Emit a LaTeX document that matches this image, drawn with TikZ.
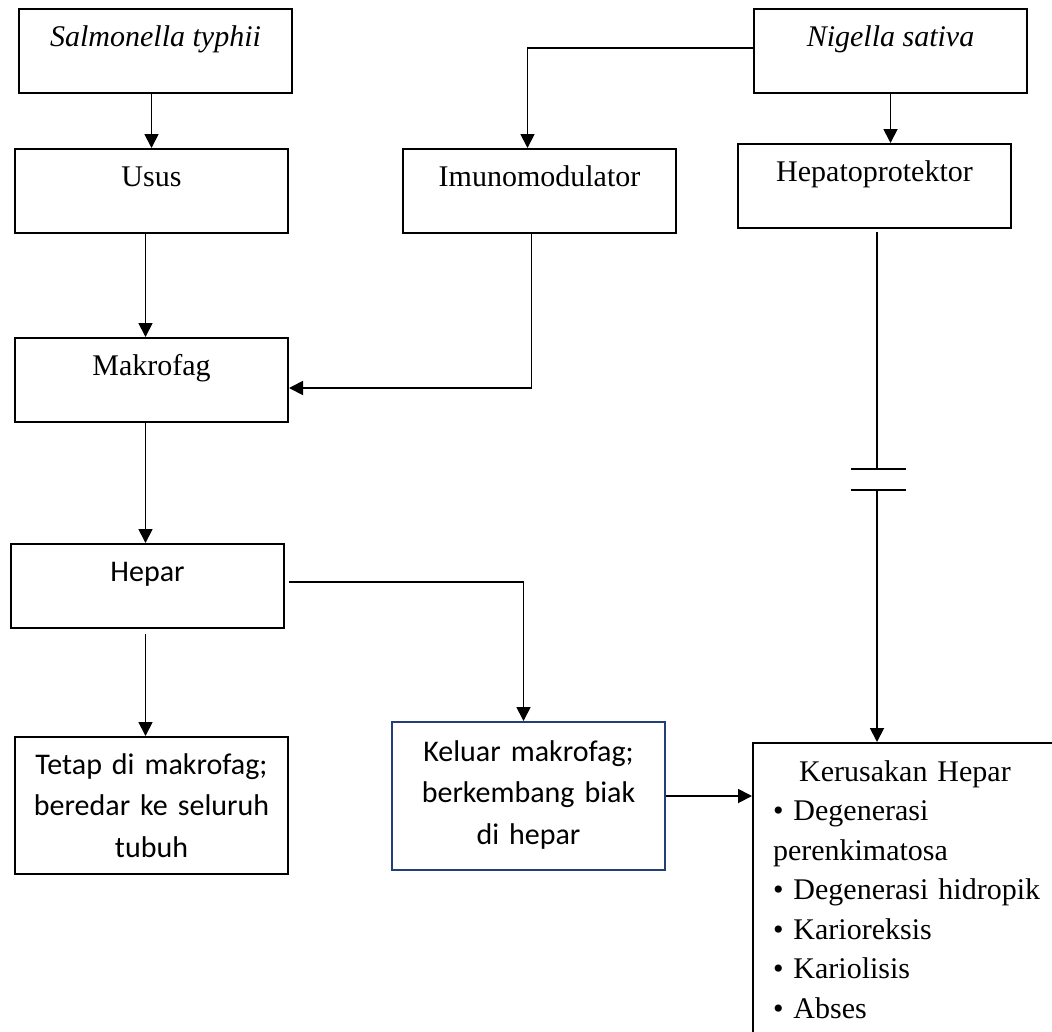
\documentclass[tikz,border=0pt]{standalone}
\usepackage{fontspec}
\setmainfont{Liberation Serif}
\newfontfamily\calibrisub{Carlito}
\usepackage{tikz}
\usetikzlibrary{arrows.meta,calc}
\definecolor{boxblue}{RGB}{36,62,122}

\begin{document}
\begin{tikzpicture}[x=1pt,y=1pt,yscale=-1,
        flowbox/.style={draw,line width=2pt,anchor=north west,minimum width=273pt,inner sep=0pt,
            text height=37pt,text depth=47pt,font=\fontsize{30}{39.5}\selectfont},
        sansbox/.style={flowbox,font=\calibrisub\fontsize{30}{41.5}\selectfont,text width=273pt,align=center},
        arr/.style={line width=1.8pt,-{Triangle[length=14pt,width=14pt]}},
        link/.style={line width=1.8pt}]
        \clip (0,0) rectangle (1052,1031);
        % Boxes
        \node[flowbox] (salm) at (18,8) {\itshape Salmonella typhii};
        \node[flowbox] (nig) at (753,8) {\itshape Nigella sativa};
        \node[flowbox] (usus) at (14,148) {Usus};
        \node[flowbox] (imuno) at (402,148) {Imunomodulator};
        \node[flowbox] (hepato) at (737,143) {Hepatoprotektor};
        \node[flowbox] (makro) at (14,337) {Makrofag};
        \node[flowbox,font=\calibrisub\fontsize{30}{41.5}\selectfont] (hepar) at (10,543) {Hepar};
        \node[sansbox,text depth=100pt] (tetap) at (14,736) {Tetap di makrofag;\\beredar ke seluruh\\tubuh};
        \node[sansbox,draw=boxblue,text height=39pt,text depth=109pt] (keluar) at (391,721)
            {Keluar makrofag;\\berkembang biak\\di hepar};
        \node[flowbox,align=left,text width=280pt,inner xsep=20pt,text height=38pt,text depth=320pt] (kerus) at (752,742)
            {\makebox[264pt]{Kerusakan Hepar}\\• Degenerasi\\perenkimatosa\\• Degenerasi hidropik\\• Karioreksis\\• Kariolisis\\• Abses};
        % Arrows
        \draw[arr] (salm.south -| usus.north) -- (usus.north);
        \draw[arr] ($(usus.south)+(-6,0)$) -- ($(makro.north)+(-6,0)$);
        \draw[arr] ($(nig.west)+(0,-3)$) -| ($(imuno.north)+(-12,0)$);
        \draw[arr] (nig.south) -- (nig.south |- hepato.north);
        \draw[arr] ($(imuno.south)+(-8,0)$) |- ($(makro.east)+(0,8)$);
        \draw[arr] ($(makro.south)+(-6,0)$) -- ($(hepar.north)+(-2,0)$);
        % Broken line to Kerusakan Hepar
        \coordinate (cut1) at (877,469);
        \coordinate (cut2) at (877,490);
        \draw[link] ($(cut1 |- hepato.south)+(0,3)$) -- (cut1);
        \draw[link] ($(cut1)+(-26,0)$) -- ($(cut1)+(29,0)$);
        \draw[link] ($(cut2)+(-26,0)$) -- ($(cut2)+(29,0)$);
        \draw[arr] (cut2) -- (cut2 |- kerus.north);
        % Hepar outputs
        \draw[arr] ($(hepar.east)+(4,-4)$) -| ($(keluar.north)+(-5,0)$);
        \coordinate (hpx) at ($(hepar.south)+(-2,5)$);
        \draw[arr] (hpx) -- (hpx |- tetap.north);
        \draw[arr] (keluar.east) -- (keluar.east -| kerus.west);
\end{tikzpicture}
\end{document}
